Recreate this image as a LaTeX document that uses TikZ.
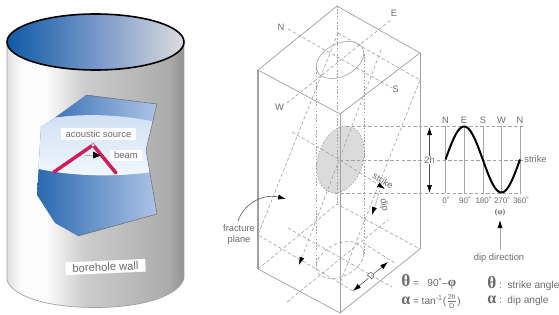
\documentclass[tikz,border=0pt]{standalone}
\usepackage{amsmath}
\usepackage{fontspec}
\setmainfont{Liberation Sans}
\newfontfamily\grk{Liberation Serif}[BoldFont={Liberation Serif Bold}]
\usetikzlibrary{arrows.meta}

\definecolor{wallA}{gray}{0.88}
\definecolor{wallB}{gray}{0.99}
\definecolor{wallC}{gray}{0.80}
\definecolor{wallD}{gray}{0.72}
\definecolor{wallE}{gray}{0.67}
\definecolor{wallF}{gray}{0.57}
\definecolor{boreA}{HTML}{0F5AA6}
\definecolor{boreB}{HTML}{7E9CCB}
\definecolor{boreC}{HTML}{DCDCDE}
\definecolor{panA}{HTML}{2A69B0}
\definecolor{panB}{HTML}{AEC3E6}
\definecolor{bandA}{HTML}{CFE0F3}
\definecolor{bandB}{HTML}{F3F8FE}
\definecolor{beamred}{HTML}{D11B5B}
\definecolor{linegray}{gray}{0.63}
\definecolor{inkgray}{gray}{0.42}

% bounding box of the path spans 25bp..75bp of each shading
\pgfdeclarehorizontalshading{wallshade}{100bp}{color(0bp)=(wallA); color(25bp)=(wallA);
  color(29bp)=(wallB); color(36bp)=(wallB); color(47bp)=(wallC); color(62bp)=(wallD);
  color(71bp)=(wallE); color(75bp)=(wallF); color(100bp)=(wallF)}
\pgfdeclarehorizontalshading{boreshade}{100bp}{color(0bp)=(boreA); color(25bp)=(boreA);
  color(52bp)=(boreB); color(75bp)=(boreC); color(100bp)=(boreC)}
\pgfdeclarehorizontalshading{panelshade}{100bp}{color(0bp)=(panA); color(25bp)=(panA);
  color(75bp)=(panB); color(100bp)=(panB)}
\pgfdeclareverticalshading{bandshade}{100bp}{color(0bp)=(bandB); color(25bp)=(bandB);
  color(75bp)=(bandA); color(100bp)=(bandA)}

\tikzset{
  solidedge/.style={draw=linegray,line width=0.55pt},
  hidden/.style={draw=linegray,line width=0.45pt,dash pattern=on 2.6pt off 1.6pt},
  dotline/.style={draw=linegray,line width=0.45pt,dash pattern=on 1.2pt off 1.2pt},
  blacktip/.style={-{Latex[length=6pt,width=3.8pt,black]}},
  lab/.style={text=inkgray,font=\fontsize{7}{8}\selectfont,inner sep=0pt},
  tiny lab/.style={text=inkgray,font=\fontsize{6}{7}\selectfont,inner sep=0pt},
  whitebox/.style={fill=white,text=inkgray,inner sep=0pt},
  beamline/.style={draw=beamred,line width=2.6pt,line cap=round},
  gridline/.style={draw=gray!70,line width=0.45pt},
  formula/.style={anchor=west,text=inkgray,inner sep=0pt,font=\fontsize{7.6}{9}\selectfont},
}
\newcommand{\bigth}{{\grk\bfseries\fontsize{13}{13}\selectfont θ}}
\newcommand{\bigal}{{\grk\bfseries\fontsize{12}{13}\selectfont α}}

\begin{document}
\begin{tikzpicture}[x=0.75pt,y=-0.75pt]
\useasboundingbox (0,0) rectangle (559,314);

% ---- cylinder wall ----
\begin{scope}
  \clip (7,42) -- (7,280) .. controls (12,296) and (46,307.5) .. (95.5,307.5)
        .. controls (145,307.5) and (180,295) .. (184,278) -- (184,42) -- cycle;
  \shade[shading=wallshade] (7,10) rectangle (184,310);
\end{scope}
\draw[gray!75,line width=0.5pt] (7,42) -- (7,280) .. controls (12,296) and (46,307.5) .. (95.5,307.5)
        .. controls (145,307.5) and (180,295) .. (184,278) -- (184,42);

% ---- bore opening ----
\begin{scope}
  \clip (95.5,42) ellipse [x radius=88.5,y radius=28];
  \shade[shading=boreshade] (7,10) rectangle (184,75);
\end{scope}
\draw[black,line width=1.2pt] (95.5,42) ellipse [x radius=88.5,y radius=28];

% ---- logged patch of the wall ----
\begin{scope}
  \clip (86,95) -- (157,104) -- (146,150) -- (157,214) -- (78,236) -- (55,223)
        -- (37,195) -- (41,127) -- (53,119) -- cycle;
  \shade[shading=panelshade] (37,90) rectangle (157,240);
  \clip (30,122) .. controls (70,113) and (115,112) .. (165,124)
        -- (165,170) .. controls (120,178) and (70,177) .. (30,167) -- cycle;
  \shade[shading=bandshade] (30,112) rectangle (165,178);
\end{scope}
\draw[gray!80!black,line width=0.35pt] (86,95) -- (157,104) -- (146,150) -- (157,214) -- (78,236);

% ---- acoustic beam ----
\coordinate (source) at (93,145);
\coordinate (beamL) at (54,172);
\coordinate (beamR) at (116,173);
\draw[beamline] (beamL) -- (source) -- (beamR);
\draw[gray!60,line width=0.4pt,fill=bandB] (source) circle (1.6);
\draw[gray!60,line width=0.5pt] (85,155) -- (93,155);
\fill[black] (93,151.5) -- (101,155.5) -- (93,158.5) -- cycle;

\node[whitebox,minimum width=56pt,minimum height=9pt,font=\fontsize{7.1}{8}\selectfont] (acoustic) at (98.5,134) {acoustic source};
\node[whitebox,minimum width=24pt,minimum height=8.5pt,font=\fontsize{7.1}{8}\selectfont] (beam) at (126,155.5) {beam};
\node[whitebox,rotate=2.5,minimum width=60pt,minimum height=9.5pt,font=\fontsize{8.4}{9}\selectfont] (wall) at (105.5,267) {borehole wall};

% ---- fracture ellipse on the block's mid plane ----
\fill[gray!28] plot[domain=0:360,samples=73,variable=\t]
  ({340.5+23.7*cos(\t)},{159.5-8*cos(\t)+32.5*sin(\t)}) -- cycle;
\draw[dotline] plot[domain=0:360,samples=73,variable=\t]
  ({340.5+23.7*cos(\t)},{159.5-8*cos(\t)+32.5*sin(\t)}) -- cycle;

% ---- block: visible edges ----
\draw[solidedge] (337,6) -- (258,70) -- (340,114) -- (420,53) -- cycle;
\draw[solidedge,line width=0.8pt] (258,70) -- (258,269);
\draw[solidedge] (340,114) -- (340,313);
\draw[solidedge] (420,53) -- (420,249);
\draw[solidedge] (258,269) -- (340,313) -- (420,249);

% ---- block: hidden edges ----
\draw[dotline] (337,6) -- (337,204);
\draw[hidden] (258,269) -- (337,204) -- (420,249);

% ---- bore through the block ----
\draw[dotline] (316.5,66) -- (316.5,266);
\draw[dotline] (364,54) -- (364,254);
\draw[solidedge,line width=0.45pt] plot[domain=0:360,samples=73,variable=\t]
  ({340+23.7*cos(\t)},{60-6.5*cos(\t)+17.3*sin(\t)}) -- cycle;
\draw[hidden] plot[domain=0:360,samples=73,variable=\t]
  ({340+23.7*cos(\t)},{260-6.5*cos(\t)+17.3*sin(\t)}) -- cycle;

% ---- compass lines, top and bottom faces ----
\draw[hidden] (288,29) -- (392,88);
\draw[hidden] (287,103) -- (392,19);
\draw[hidden] (288,228) -- (392,287);
\draw[hidden] (287,302) -- (388,220);

% ---- fracture plane ----
\draw[hidden] (338,33) -- (420,80) -- (340,283) -- (258,235) -- cycle;
\draw[hidden,blacktip] (381,50) -- (299,265);
\draw[hidden] (292,132) -- (340,160);
\draw[hidden,blacktip] (340,160) -- (385,189);
\draw[gray!70,line width=0.5pt,dash pattern=on 2pt off 0.8pt,blacktip] (380,190) -- (372,215);

% ---- horizontal projections to the log ----
\draw[hidden] (346,126) -- (523,126);
\draw[hidden] (340,160) -- (425,160);
\draw[hidden] (437,160) -- (523,160);
\draw[hidden] (335,193) -- (521,193);

% ---- unrolled log trace ----
\foreach \gx in {445.5,464,483,501.5,520}
  \draw[gridline] (\gx,126) -- (\gx,193);
\draw[black,line width=1.5pt] plot[domain=0:360,samples=73,variable=\t]
  ({445.5+\t/360*74.5},{159.5-33*sin(\t)});

\coordinate (twoTop) at (429.5,127);
\coordinate (twoBot) at (429.5,193);
\node[lab] (twoh) at (429.5,160) {2h};
\draw[gray!60!black,line width=0.5pt,-{Latex[length=6pt,width=3.8pt,black]}] (twoh) -- (twoTop);
\draw[gray!60!black,line width=0.5pt,-{Latex[length=6pt,width=3.8pt,black]}] (twoh) -- (twoBot);

\node[lab] (n1) at (445.5,120) {N};
\node[lab] (e1) at (464,120) {E};
\node[lab] (s1) at (483,120) {S};
\node[lab] (w1) at (501.5,120) {W};
\node[lab] (n2) at (520,120) {N};
\node[lab] (strikeLog) at (535.5,159.5) {strike};
\node[tiny lab] (d0) at (446,200) {0˚};
\node[tiny lab] (d90) at (465,200) {90˚};
\node[tiny lab] (d180) at (483.5,200) {180˚};
\node[tiny lab] (d270) at (502,200) {270˚};
\node[tiny lab] (d360) at (521,200) {360˚};
\node[tiny lab] (phiLog) at (500,213) {\grk\bfseries (φ)};

\node[lab] (dipdir) at (499,258.5) {dip direction};
\coordinate (dipTip) at (500,220);
\draw[gray!70,line width=0.55pt,blacktip] (500,250) -- (dipTip);

% ---- block labels ----
\node[lab] (cN) at (281,27) {N};
\node[lab] (cE) at (394,13.5) {E};
\node[lab] (cS) at (395.5,89.5) {S};
\node[lab] (cW) at (279.5,107) {W};
\node[lab,rotate=-32] (strikeLab) at (383,181) {strike};
\node[lab,rotate=-78] (dipLab) at (384,205) {dip};

\node[lab,align=center] (fracture) at (239,234.5) {fracture\\plane};
\coordinate (fracTip) at (286,199);
\draw[gray!70!black,line width=0.45pt,blacktip] (238,221) .. controls (243,205) and (262,193) .. (fracTip);

% ---- aperture dimension ----
\coordinate (dimA) at (388,262);
\coordinate (dimB) at (353,291);
\node[lab,rotate=50] (dimD) at (371,276) {D};
\draw[gray!70!black,line width=0.45pt,blacktip] (dimD) -- (dimA);
\draw[gray!70!black,line width=0.45pt,blacktip] (dimD) -- (dimB);
\draw[hidden] (340,283) -- (355,292);
\draw[hidden] (363,243) -- (395,263);

% ---- relations ----
\node[formula] (eqA) at (401,282) {\bigth{} =\ \ \ 90˚–{\grk\bfseries\fontsize{10}{10}\selectfont φ}};
\node[formula] (eqB) at (401,301) {\bigal{} = tan\textsuperscript{-1}(\smash{\raisebox{0.3pt}{$\frac{\text{2h}}{\text{D}}$}})};
\node[formula] (eqC) at (487,283) {\bigth{} :\ \ strike angle};
\node[formula] (eqD) at (487,301) {\bigal{} :\ \ dip angle};
\end{tikzpicture}
\end{document}
